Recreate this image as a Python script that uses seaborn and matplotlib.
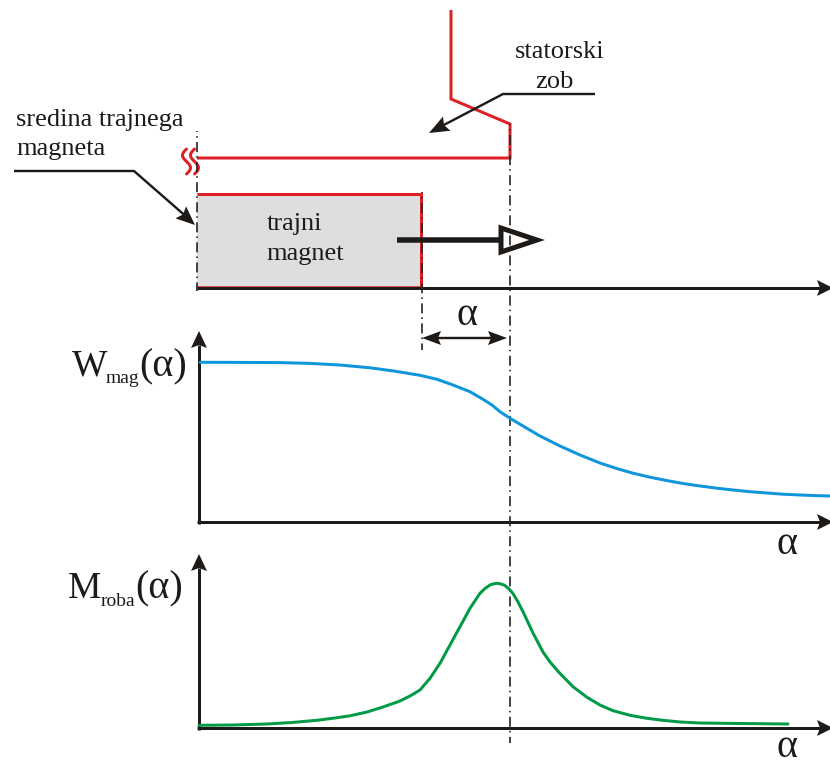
import numpy as np
import pandas as pd
import matplotlib
matplotlib.use("Agg")
import matplotlib.pyplot as plt
import seaborn as sns

# Curves (pixel-scale diagram coordinates)
w_alpha = [200, 240, 280, 310, 340, 370, 395, 420, 437, 453, 470, 483, 492, 500, 510, 523, 540, 560, 580,
           600, 617, 633, 650, 667, 683, 700, 717, 733, 750, 767, 783, 800, 815, 830]
w_mag = [362.3, 362.4, 362.6, 363.4, 365, 367.8, 371.2, 375.3, 379.3, 385, 391.7, 399.3, 405, 411.7, 418.3, 426, 436, 446, 455,
         463, 468.6, 473.2, 477.2, 480.6, 483.5, 486, 488.2, 490, 491.7, 493, 494.2, 495, 495.6, 496]
m_alpha = [199, 233, 267, 292, 317, 335, 350, 367, 383, 400, 410, 420, 430, 440, 450, 460, 470, 480, 485, 490, 494, 497.5,
           501, 505, 509, 513, 518, 523, 533, 543, 550, 560, 573, 587, 600, 613, 630, 647, 660, 680, 700, 740, 788]
m_roba = [725.3, 725, 724, 722.5, 720.3, 718, 715.8, 712, 707, 701, 696, 690, 678.3, 663.3, 645, 626.7, 608.3, 593.3, 588.5, 585, 583.7, 583.3,
          584, 585.5, 589, 593.5, 602, 611.7, 633, 652, 662, 673.5, 686.7, 697.3, 705, 710.7, 715.3, 718.3, 720, 722, 723, 723.5, 724]

red_tooth_x = [451, 451, 510, 510, 197]
red_tooth_y = [10, 99, 124, 158, 158]
magnet_x = [197, 421]
magnet_y = [194, 287]
sym_lines_x = [197, 422, 510]
sym_lines_y = [(131, 291), (192, 350), (124, 743)]
h_axes_y = [288, 522, 728]
v_axes_y = [(522, 348), (728, 571)]
labels_body = [("sredina trajnega", 16, 126), ("magneta", 16, 155), ("trajni", 267, 230),
               ("magnet", 266, 260), ("statorski", 515, 58), ("zob", 535, 88)]
labels_big = [("W", 72, 376), ("(α)", 139, 376), ("M", 68, 598), ("(α)", 135, 598),
              ("α", 456, 325), ("α", 776, 554), ("α", 776, 757)]
labels_sub = [("mag", 106, 383), ("roba", 101, 606)]

INK = "#1e1a18"
RED = "#dc2026"
BLUE = "#0e96dc"
GREEN = "#009a46"

sns.set_theme(style="white")
plt.rcParams["font.family"] = ["Liberation Serif", "DejaVu Serif"]

fig = plt.figure(figsize=(8.3, 7.6), dpi=100)
ax = fig.add_axes([0, 0, 1, 1])
ax.set_xlim(0, 830)
ax.set_ylim(760, 0)
ax.axis("off")
PX = 0.72  # one pixel in points


def head(tip, frm, length=17, half=8, color=INK, z=6, notch=3):
    t, f = np.array(tip, float), np.array(frm, float)
    d = (t - f) / np.linalg.norm(t - f)
    n = np.array([-d[1], d[0]])
    b = t - d * length
    pts = np.array([t, b + n * half, b + d * notch, b - n * half])
    ax.fill(pts[:, 0], pts[:, 1], color=color, lw=0, zorder=z)


def line(xs, ys, color=INK, px=2.0, z=4, **kw):
    ax.plot(xs, ys, color=color, lw=px * PX, zorder=z, solid_joinstyle="miter",
            solid_capstyle="butt", **kw)


# Magnet
ax.fill([magnet_x[0], magnet_x[1], magnet_x[1], magnet_x[0]],
        [magnet_y[0], magnet_y[0], magnet_y[1], magnet_y[1]], color="#dedede", lw=0, zorder=1)
line([magnet_x[0], magnet_x[1], magnet_x[1]], [magnet_y[0], magnet_y[0], magnet_y[1]], RED, 3, 3)
line(magnet_x, [286.5, 286.5], RED, 1.5, 3)

# Stator tooth
line(red_tooth_x, red_tooth_y, RED, 3, 3)

# Break marks
t = np.linspace(0, 1, 40)
for c in (186.5, 194.5):
    ax.plot(c - 4 * np.sin(t * 2 * np.pi), 149 + 25 * t, color=RED, lw=3 * PX, zorder=3)

# Axes
for y in h_axes_y:
    line([197, 822], [y, y], INK, 3, 4)
    head((833, y), (197, y), 16, 8)
for (a, b) in v_axes_y:
    line([199, 199], [a + 1.5, b - 3], INK, 3, 4)
    head((199, b - 17), (199, a), 17, 8)

# Dash-dot symmetry lines
for x, (a, b) in zip(sym_lines_x, sym_lines_y):
    ax.plot([x, x], [a, b], color="#2a2626", lw=1.7 * PX, zorder=7,
            linestyle=(5.3, (5.9, 2.4, 0.9, 2.6)), dash_capstyle="butt")

# Leaders
line([14, 134, 189], [171, 171, 219], INK, 2.4, 5)
head((195, 225), (134, 171), 19, 8)
line([595, 503, 440], [94, 94, 127], INK, 2.4, 5)
head((429, 133), (503, 94), 20, 8)

# Alpha dimension arrow
line([430, 500], [338, 338], INK, 2.4, 5)
head((422, 338), (507, 338), 19, 7)
head((507, 338), (422, 338), 19, 7)

# Motion arrow
line([397, 500], [240, 240], INK, 5.5, 5)
ax.fill([501, 501, 537], [228, 252, 240], facecolor="white", edgecolor=INK, lw=5 * PX,
        zorder=5, joinstyle="miter")

# Curves
sns.lineplot(data=pd.DataFrame({"alpha": w_alpha, "W": w_mag}), x="alpha", y="W", ax=ax,
             color=BLUE, lw=3 * PX, sort=False, estimator=None, zorder=8)
sns.lineplot(data=pd.DataFrame({"alpha": m_alpha, "M": m_roba}), x="alpha", y="M", ax=ax,
             color=GREEN, lw=3 * PX, sort=False, estimator=None, zorder=8)
ax.set_xlim(0, 830)
ax.set_ylim(760, 0)
ax.axis("off")

# Text
for s, x, y in labels_body:
    ax.text(x, y, s, fontsize=19, color=INK, ha="left", va="baseline", zorder=9, clip_on=False)
for s, x, y in labels_big:
    ax.text(x, y, s, fontsize=29 if "α" in s else 27, color=INK, ha="left", va="baseline", zorder=9, clip_on=False)
for s, x, y in labels_sub:
    ax.text(x, y, s, fontsize=14, color=INK, ha="left", va="baseline", zorder=9, clip_on=False)

fig.savefig("out.png", dpi=100, facecolor="white")
